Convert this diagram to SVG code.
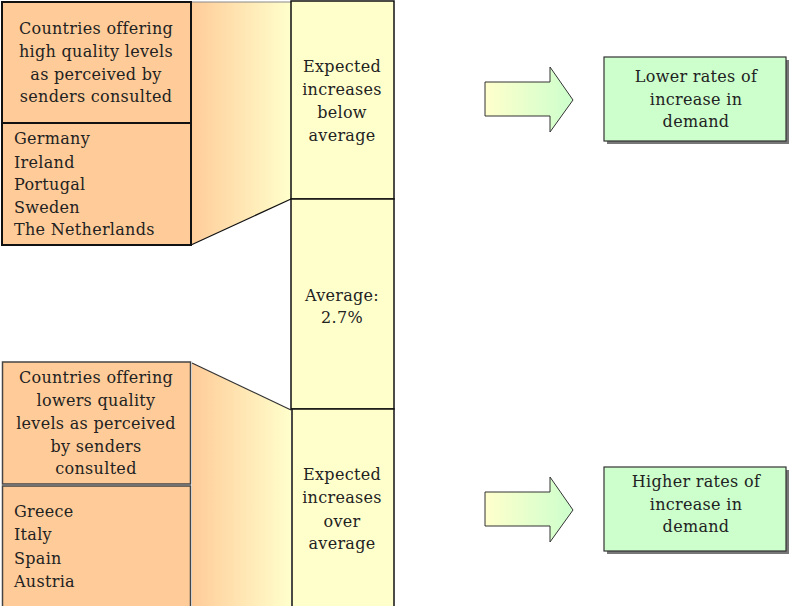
<svg xmlns="http://www.w3.org/2000/svg" width="790" height="606" viewBox="0 0 790 606">
<style>
text{font-family:"DejaVu Serif","Liberation Serif",serif;font-size:16px;fill:#222;letter-spacing:0.3px}
.c{text-anchor:middle}
.or{fill:#FFCC99;stroke:#111;stroke-width:2}
.or2{fill:#FFCC99;stroke:#444;stroke-width:1.5}
.yl{fill:#FFFFCC;stroke:#111;stroke-width:1.5}
.gr{fill:#CCFFCC;stroke:#333;stroke-width:1.2}
.arr{fill:url(#ga);stroke:#333;stroke-width:1}
</style>
<defs>
<linearGradient id="gt" x1="0" y1="0" x2="1" y2="0">
<stop offset="0" stop-color="#FFCC99"/><stop offset="1" stop-color="#FFFFCC"/>
</linearGradient>
<linearGradient id="ga" x1="0" y1="0" x2="1" y2="0">
<stop offset="0" stop-color="#FFFFCC"/><stop offset="1" stop-color="#CCFFCC"/>
</linearGradient>
</defs>

<g id="connectors">
<polygon points="191,2 291,2 291,199 191,245" fill="url(#gt)" stroke="none"/>
<line x1="191" y1="2" x2="291" y2="2" stroke="#888" stroke-width="1"/>
<line x1="191" y1="245" x2="291" y2="199" stroke="#111" stroke-width="1.2"/>
<polygon points="192,363 291,410 291,606 192,606" fill="url(#gt)" stroke="none"/>
<line x1="192" y1="363" x2="291" y2="410" stroke="#333" stroke-width="1.2"/>
<polygon class="arr" points="485,82 550,82 550,67 573,100 550,132 550,116 485,116"/>
<polygon class="arr" points="485,492 550,492 550,477 573,510 550,542 550,526 485,526"/>
</g>

<g id="col-below">
<rect class="yl" x="291" y="1" width="103" height="198"/>
<text class="c" x="342" y="72">Expected</text>
<text class="c" x="342" y="95">increases</text>
<text class="c" x="342" y="118">below</text>
<text class="c" x="342" y="141">average</text>
</g>
<g id="col-average">
<rect class="yl" x="291" y="199" width="103" height="210"/>
<text class="c" x="342" y="301">Average:</text>
<text class="c" x="342" y="323">2.7%</text>
</g>
<g id="col-over">
<rect class="yl" x="292" y="409" width="102" height="199"/>
<text class="c" x="342" y="480">Expected</text>
<text class="c" x="342" y="503">increases</text>
<text class="c" x="342" y="527">over</text>
<text class="c" x="342" y="549">average</text>
</g>

<g id="high-header">
<rect class="or" x="2" y="2" width="189" height="121"/>
<text class="c" x="96" y="34">Countries offering</text>
<text class="c" x="96" y="57">high quality levels</text>
<text class="c" x="96" y="80">as perceived by</text>
<text class="c" x="96" y="102">senders consulted</text>
</g>
<g id="high-list">
<rect class="or" x="2" y="123" width="189" height="122"/>
<text x="14" y="144">Germany</text>
<text x="14" y="168">Ireland</text>
<text x="14" y="190">Portugal</text>
<text x="14" y="213">Sweden</text>
<text x="14" y="235">The Netherlands</text>
</g>

<g id="low-header">
<rect class="or2" x="2.5" y="362" width="188" height="122"/>
<text class="c" x="96" y="383">Countries offering</text>
<text class="c" x="96" y="406">lowers quality</text>
<text class="c" x="96" y="429">levels as perceived</text>
<text class="c" x="96" y="452">by senders</text>
<text class="c" x="96" y="474">consulted</text>
</g>
<g id="low-list">
<rect class="or2" x="2.5" y="486" width="188" height="122"/>
<text x="14" y="517">Greece</text>
<text x="14" y="540">Italy</text>
<text x="14" y="564">Spain</text>
<text x="14" y="587">Austria</text>
</g>

<g id="lower-rates">
<rect x="607" y="60" width="182" height="84" fill="#777"/>
<rect class="gr" x="604" y="57" width="182" height="84"/>
<text class="c" x="696" y="82">Lower rates of</text>
<text class="c" x="696" y="105">increase in</text>
<text class="c" x="696" y="127">demand</text>
</g>
<g id="higher-rates">
<rect x="607" y="470" width="182" height="84" fill="#777"/>
<rect class="gr" x="604" y="467" width="182" height="84"/>
<text class="c" x="696" y="487">Higher rates of</text>
<text class="c" x="696" y="510">increase in</text>
<text class="c" x="696" y="532">demand</text>
</g>
</svg>
